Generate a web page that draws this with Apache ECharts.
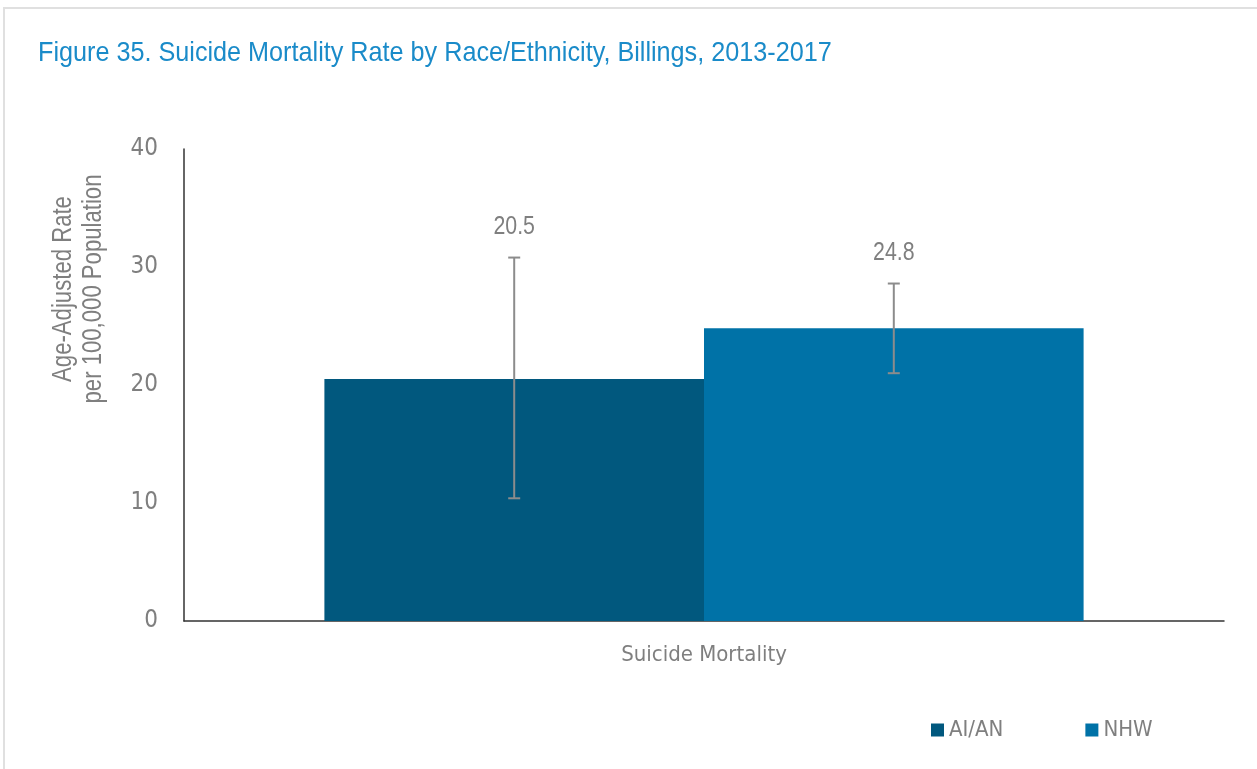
<!DOCTYPE html>
<html>
<head>
<meta charset="utf-8">
<script src="https://cdn.jsdelivr.net/npm/echarts@6/dist/echarts.min.js"></script>
<style>
  html, body { margin: 0; padding: 0; background: #fff; }
  #chart { width: 1257px; height: 769px; }
</style>
</head>
<body>
<div id="chart"></div>
<script>
// data
const categories = ["Suicide Mortality"];
const groups = ["AI/AN", "NHW"];
const rates = [20.5, 24.8];
const ciLower = [10.4, 21.0];
const ciUpper = [30.8, 28.6];
const groupColors = ["#01587e", "#0072a7"];

// narrow look: Liberation Sans squeezed for the free texts, condensed DejaVu for axis texts
const NARROW = "'Liberation Sans', Arial, sans-serif";
const COND = "'DejaVu Sans Condensed', 'Liberation Sans', sans-serif";
const SQUEEZE = 0.82;
const GAP = 0.27; // barCategoryGap

let myChart = echarts.init(document.getElementById("chart"));

// error bar + value label, drawn through the axes
function renderError(params, api) {
  const g = api.value(0);
  const lo = api.coord([0, api.value(1)]);
  const hi = api.coord([0, api.value(2)]);
  const band = api.size([1, 0])[0];
  const barW = band * (1 - GAP) / groups.length;
  const x = lo[0] + (g - (groups.length - 1) / 2) * barW;
  const cap = 6;
  const style = { stroke: "#8c8c8c", lineWidth: 2 };
  return {
    type: "group",
    children: [
      { type: "line", shape: { x1: x, y1: lo[1], x2: x, y2: hi[1] }, style: style },
      { type: "line", shape: { x1: x - cap, y1: lo[1], x2: x + cap, y2: lo[1] }, style: style },
      { type: "line", shape: { x1: x - cap, y1: hi[1], x2: x + cap, y2: hi[1] }, style: style },
      {
        type: "text",
        x: x, y: hi[1] - 31,
        scaleX: SQUEEZE,
        style: {
          text: rates[g].toFixed(1),
          fill: "#7f7f7f",
          font: "26px " + NARROW,
          textAlign: "center",
          textVerticalAlign: "middle"
        }
      }
    ]
  };
}

let option = {
  backgroundColor: "#fff",
  animation: false,
  graphic: [
    {
      type: "rect",
      shape: { x: 4, y: 8, width: 1262, height: 770 },
      style: { fill: "none", stroke: "#e0e0e0", lineWidth: 2 }
    },
    {
      // title
      type: "text",
      x: 38, y: 53,
      scaleX: 0.9,
      style: {
        text: "Figure 35. Suicide Mortality Rate by Race/Ethnicity, Billings, 2013-2017",
        fill: "#1a8bc9",
        font: "28px " + NARROW,
        textAlign: "left",
        textVerticalAlign: "middle"
      }
    },
    {
      // y axis name
      type: "text",
      x: 79, y: 289,
      rotation: Math.PI / 2,
      scaleX: SQUEEZE,
      style: {
        text: "Age-Adjusted Rate\nper 100,000 Population",
        fill: "#7f7f7f",
        font: "27px " + NARROW,
        textAlign: "center",
        textVerticalAlign: "middle",
        lineHeight: 30
      }
    }
  ],
  grid: {
    left: 184,
    right: 33,
    top: 149,
    bottom: 148
  },
  legend: {
    data: groups,
    left: 926,
    top: 714,
    itemWidth: 13,
    itemHeight: 13,
    itemGap: 82,
    icon: "rect",
    textStyle: { color: "#7f7f7f", fontFamily: COND, fontSize: 22 }
  },
  xAxis: {
    type: "category",
    data: categories,
    axisLine: { show: true, lineStyle: { color: "#333", width: 1.5 } },
    axisTick: { show: false },
    axisLabel: { color: "#7f7f7f", fontFamily: COND, fontSize: 22, margin: 23 }
  },
  yAxis: {
    type: "value",
    min: 0,
    max: 40,
    interval: 10,
    axisLine: { show: true, lineStyle: { color: "#333", width: 1.5 } },
    axisTick: { show: false },
    splitLine: { show: false },
    axisLabel: { color: "#7f7f7f", fontFamily: COND, fontSize: 24, margin: 26 }
  },
  series: groups.map(function (name, i) {
    return {
      name: name,
      type: "bar",
      barGap: 0,
      barCategoryGap: "27%",
      itemStyle: { color: groupColors[i] },
      data: [rates[i]]
    };
  }).concat([{
    type: "custom",
    renderItem: renderError,
    z: 10,
    encode: { y: [1, 2] },
    data: groups.map(function (n, i) { return [i, ciLower[i], ciUpper[i]]; })
  }])
};

myChart.setOption(option);
</script>
</body>
</html>
